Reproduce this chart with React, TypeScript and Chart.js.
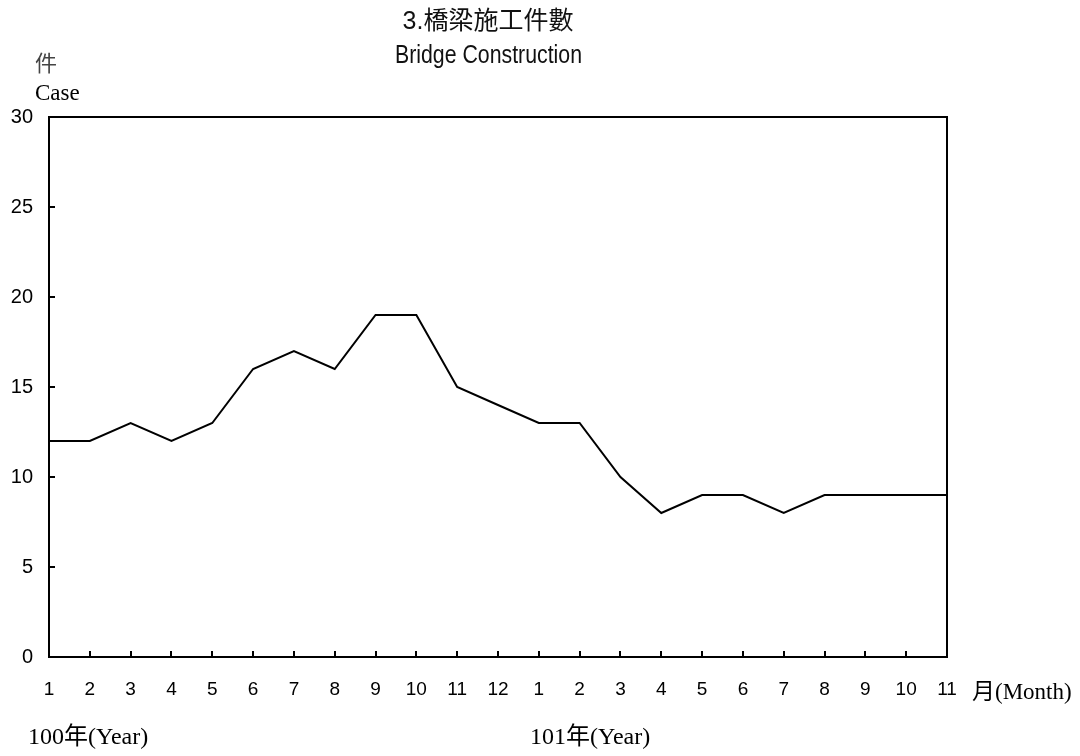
import React, { useEffect, useRef } from "react";
import { Chart, registerables } from "chart.js";

Chart.register(...registerables);

const monthLabels = ["1","2","3","4","5","6","7","8","9","10","11","12","1","2","3","4","5","6","7","8","9","10","11"];
const caseValues = [12,12,13,12,13,16,17,16,19,19,15,14,13,13,10,8,9,9,8,9,9,9,9];
const yTicks = [0, 5, 10, 15, 20, 25, 30];
const titleLines = ["3.橋梁施工件數", "Bridge Construction"];
const yUnit = ["件", "Case"];
const yearLabels = ["100年(Year)", "101年(Year)"];
const monthUnit = "月(Month)";

const SANS = "'Liberation Sans', Arial, 'Noto Sans CJK TC', sans-serif";
const SERIF = "'Liberation Serif', 'Times New Roman', 'Noto Sans CJK TC', serif";

function fillFitted(ctx: any, text: string, cx: number, y: number, width: number, font: string) {
  ctx.save();
  ctx.font = font;
  const w = ctx.measureText(text).width;
  const s = Math.min(1, width / w);
  ctx.translate(cx, y);
  ctx.scale(s, 1);
  ctx.textAlign = "center";
  ctx.fillText(text, 0, 0);
  ctx.restore();
}

const decorPlugin = {
  id: "decor",
  afterDraw(chart: any) {
    const ctx = chart.ctx;
    const a = chart.chartArea;
    const xs = chart.scales.x;
    const ys = chart.scales.y;
    ctx.save();
    ctx.strokeStyle = "#000";
    ctx.lineWidth = 2;
    ctx.strokeRect(a.left, a.top, a.right - a.left, a.bottom - a.top);
    ctx.beginPath();
    for (let i = 0; i < xs.ticks.length; i++) {
      const px = Math.round(xs.getPixelForTick(i));
      ctx.moveTo(px, a.bottom);
      ctx.lineTo(px, a.bottom - 6);
    }
    for (let i = 0; i < ys.ticks.length; i++) {
      const py = Math.round(ys.getPixelForTick(i));
      ctx.moveTo(a.left, py);
      ctx.lineTo(a.left + 6, py);
    }
    ctx.stroke();

    ctx.fillStyle = "#111";
    ctx.textBaseline = "middle";
    fillFitted(ctx, titleLines[0], 488, 22, 178, `25px ${SANS}`);
    ctx.textBaseline = "alphabetic";
    fillFitted(ctx, titleLines[1], 488.5, 63, 187, `25px ${SANS}`);

    ctx.textAlign = "left";
    ctx.textBaseline = "middle";
    ctx.fillStyle = "#444";
    ctx.font = `22px ${SERIF}`;
    ctx.fillText(yUnit[0], 35, 65);
    ctx.fillStyle = "#000";
    ctx.textBaseline = "alphabetic";
    ctx.font = `23px ${SERIF}`;
    ctx.fillText(yUnit[1], 35, 100);

    ctx.font = `24px ${SERIF}`;
    ctx.fillText(yearLabels[0], 28, 744);
    ctx.fillText(yearLabels[1], 530, 744);
    ctx.font = `23px ${SERIF}`;
    ctx.fillText(monthUnit, 972, 699);
    ctx.restore();
  },
};

export default function App() {
  const ref = useRef<HTMLCanvasElement | null>(null);
  useEffect(() => {
    if (!ref.current) return;
    const chart = new Chart(ref.current, {
      type: "line",
      data: {
        labels: monthLabels,
        datasets: [
          {
            data: caseValues,
            borderColor: "#000",
            borderWidth: 2,
            pointRadius: 0,
            tension: 0,
            fill: false,
          },
        ],
      },
      options: {
        animation: false,
        responsive: false,
        devicePixelRatio: 1,
        layout: { padding: { top: 117, right: 133, left: 0, bottom: 0 } },
        plugins: { legend: { display: false }, title: { display: false }, tooltip: { enabled: false } },
        scales: {
          x: {
            type: "category",
            offset: false,
            grid: { display: false, drawTicks: false },
            border: { display: false },
            ticks: {
              color: "#000",
              font: { family: SANS, size: 19 },
              padding: 21,
              maxRotation: 0,
              autoSkip: false,
            },
            afterFit(scale: any) {
              scale.height = 99;
            },
          },
          y: {
            min: 0,
            max: 30,
            afterBuildTicks(scale: any) {
              scale.ticks = yTicks.map((v) => ({ value: v }));
            },
            grid: { display: false, drawTicks: false },
            border: { display: false },
            ticks: {
              color: "#000",
              font: { family: SANS, size: 20 },
              padding: 16,
            },
            afterFit(scale: any) {
              scale.width = 49;
            },
          },
        },
      },
      plugins: [decorPlugin],
    });
    return () => chart.destroy();
  }, []);
  return (
    <div style={{ position: "absolute", left: 0, top: 0, width: 1080, height: 756, background: "#fff" }}>
      <canvas ref={ref} width={1080} height={756} />
    </div>
  );
}
